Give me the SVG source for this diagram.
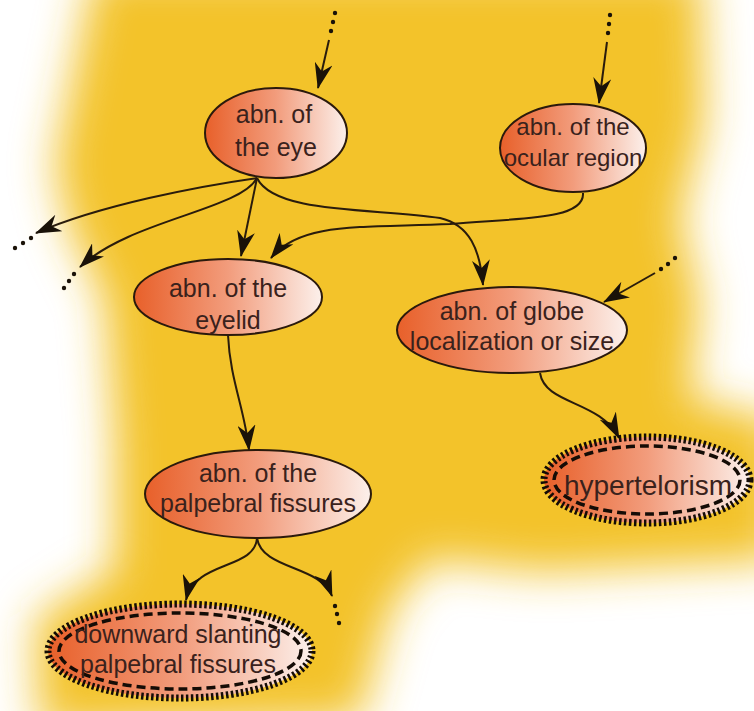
<svg xmlns="http://www.w3.org/2000/svg" width="754" height="711" viewBox="0 0 754 711">
<defs>
<filter id="glow" x="-20%" y="-20%" width="140%" height="140%"><feGaussianBlur stdDeviation="22"/></filter>
<linearGradient id="nodeFill" x1="0" y1="0" x2="1" y2="0">
<stop offset="0" stop-color="#E8602A"/>
<stop offset="0.5" stop-color="#F29C7C"/>
<stop offset="1" stop-color="#FCF0EB"/>
</linearGradient>
<marker id="arrow" markerUnits="userSpaceOnUse" viewBox="0 0 26 18" markerWidth="26" markerHeight="18" refX="25" refY="9" orient="auto">
<path d="M0,0 L26,9 L0,18 L8,9 Z" fill="#1a1208"/>
</marker>
<style>
.node ellipse.main{fill:url(#nodeFill);stroke:#2b1a0c;stroke-width:2}
.node text{font-family:"Liberation Sans",Arial,sans-serif;font-size:25px;fill:#3a221c;text-anchor:middle}
.term .outer{fill:url(#nodeFill);stroke:#140c06;stroke-width:7;stroke-dasharray:2.5 2.5}
.term .inner{fill:none;stroke:#140c06;stroke-width:3.5;stroke-dasharray:9 5}
.edge{fill:none;stroke:#2a1c0c;stroke-width:2;marker-end:url(#arrow)}
.dot{fill:#1a1208}
</style>
</defs>
<rect width="754" height="711" fill="#ffffff"/>
<g id="background" filter="url(#glow)">
<path d="M95,-30 L700,-30 L705,120 L680,220 L700,300 L690,400 L780,420 L780,560 L540,572 L430,560 L390,610 L360,720 L40,730 L35,620 L115,570 L115,440 L105,300 L70,230 L55,165 Z" fill="#F3C32A"/>
</g>
<g id="connectors">
<circle class="dot" cx="335" cy="13" r="2.2"/><circle class="dot" cx="333" cy="22" r="2.2"/><circle class="dot" cx="331" cy="31" r="2.2"/>
<path class="edge" d="M329,40 L318,88"/>
<circle class="dot" cx="610" cy="15" r="2.2"/><circle class="dot" cx="609" cy="24" r="2.2"/><circle class="dot" cx="608" cy="33" r="2.2"/>
<path class="edge" d="M607,42 L599,103"/>
<circle class="dot" cx="675" cy="258" r="2.2"/><circle class="dot" cx="668" cy="264" r="2.2"/><circle class="dot" cx="661" cy="269" r="2.2"/>
<path class="edge" d="M655,273 L604,302"/>
<path class="edge" d="M257,178 C200,186 100,205 36,233"/>
<circle class="dot" cx="31" cy="238" r="2.2"/><circle class="dot" cx="23" cy="243" r="2.2"/><circle class="dot" cx="15" cy="248" r="2.2"/>
<path class="edge" d="M257,178 C240,210 130,220 80,267"/>
<circle class="dot" cx="74" cy="274" r="2.2"/><circle class="dot" cx="69" cy="281" r="2.2"/><circle class="dot" cx="64" cy="288" r="2.2"/>
<path class="edge" d="M257,178 L241,256"/>
<path class="edge" d="M257,178 C275,215 380,208 440,218 C470,225 480,250 483,285"/>
<path class="edge" d="M583,193 C585,220 520,218 450,224 C360,228 300,222 271,258"/>
<path class="edge" d="M228,335 C230,380 245,410 249,450"/>
<path class="edge" d="M540,373 C545,405 600,400 619,438"/>
<path class="edge" d="M257,538 C255,570 195,560 186,600"/>
<path class="edge" d="M257,538 C262,570 320,565 332,596"/>
<circle class="dot" cx="335" cy="606" r="2.2"/><circle class="dot" cx="337" cy="614" r="2.2"/><circle class="dot" cx="339" cy="623" r="2.2"/>
</g>
<g id="node-eye" class="node">
<ellipse class="main" cx="276" cy="133" rx="71" ry="45"/>
<text x="274" y="123">abn. of</text><text x="276" y="156">the eye</text>
</g>
<g id="node-ocular" class="node">
<ellipse class="main" cx="573" cy="148" rx="73" ry="44"/>
<text x="573" y="135" style="font-size:24px">abn. of the</text><text x="573" y="166" style="font-size:24px">ocular region</text>
</g>
<g id="node-eyelid" class="node">
<ellipse class="main" cx="228" cy="297" rx="94" ry="38"/>
<text x="228" y="297">abn. of the</text><text x="228" y="329">eyelid</text>
</g>
<g id="node-globe" class="node">
<ellipse class="main" cx="512" cy="330" rx="115" ry="43"/>
<text x="512" y="320">abn. of globe</text><text x="512" y="350">localization or size</text>
</g>
<g id="node-palpebral" class="node">
<ellipse class="main" cx="258" cy="494" rx="113" ry="44"/>
<text x="258" y="482">abn. of the</text><text x="258" y="512">palpebral fissures</text>
</g>
<g id="node-hypertelorism" class="node term">
<ellipse class="outer" cx="647" cy="480" rx="103" ry="43"/>
<ellipse class="inner" cx="647" cy="480" rx="93" ry="34"/>
<text x="648" y="495" style="font-size:28px">hypertelorism</text>
</g>
<g id="node-downward" class="node term">
<ellipse class="outer" cx="180" cy="651" rx="132" ry="47"/>
<ellipse class="inner" cx="180" cy="651" rx="121" ry="38"/>
<text x="178" y="643">downward slanting</text><text x="178" y="673">palpebral fissures</text>
</g>
</svg>
